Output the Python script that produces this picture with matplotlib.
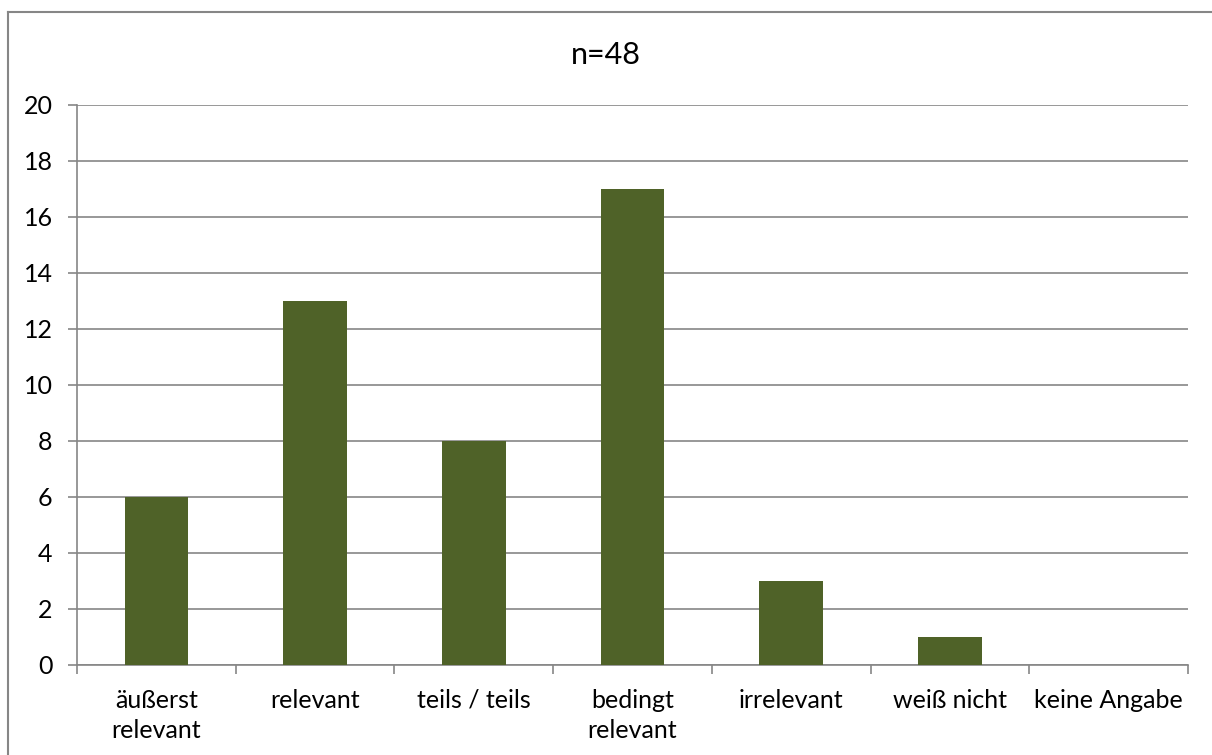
import matplotlib
matplotlib.use("Agg")
import matplotlib.pyplot as plt
from matplotlib.lines import Line2D
import numpy as np

categories = ["äußerst\nrelevant", "relevant", "teils / teils", "bedingt\nrelevant",
              "irrelevant", "weiß nicht", "keine Angabe"]
values = [6, 13, 8, 17, 3, 1, 0]
yticks = [0, 2, 4, 6, 8, 10, 12, 14, 16, 18, 20]
title = "n=48"

plt.rcParams['font.family'] = ['Lato', 'DejaVu Sans']
grey = '#868686'
bar_color = '#4F6228'

fig = plt.figure(figsize=(12.12, 7.55), dpi=100)
ax = fig.add_axes([77/1212, 1-665/755, (1188-77)/1212, (665-105)/755])

x = np.arange(len(categories))
ax.bar(x, values, width=0.4, color=bar_color, zorder=3)

ax.set_xlim(-0.5, len(categories)-0.5)
ax.set_ylim(0, 20)
ax.set_yticks(yticks)
ax.set_yticklabels([str(t) for t in yticks], fontsize=18)
ax.yaxis.grid(True, color=grey, linewidth=1.2, zorder=0)
ax.tick_params(axis='y', length=6.5, width=1.2, color=grey, pad=11)

ax.set_xticks(x)
ax.set_xticklabels(categories, fontsize=18, linespacing=1.38, va='top')
ax.set_xticks(np.arange(-0.5, len(categories), 1.0), minor=True)
ax.tick_params(axis='x', which='major', length=0, pad=17)
ax.tick_params(axis='x', which='minor', length=6.5, width=1.2, color=grey)

for s in ['top', 'right']:
    ax.spines[s].set_visible(False)
for s in ['left', 'bottom']:
    ax.spines[s].set_color(grey)
    ax.spines[s].set_linewidth(1.2)

fig.text(0.5, 1-55/755, title, ha='center', va='center', fontsize=22)

# outer chart frame (top and left edges visible)
fig.add_artist(Line2D([8/1212, 1.0], [1-12/755, 1-12/755], color=grey, linewidth=1.5,
                      transform=fig.transFigure))
fig.add_artist(Line2D([8/1212, 8/1212], [0, 1-12/755], color=grey, linewidth=1.5,
                      transform=fig.transFigure))

fig.savefig("out.png", dpi=100)
